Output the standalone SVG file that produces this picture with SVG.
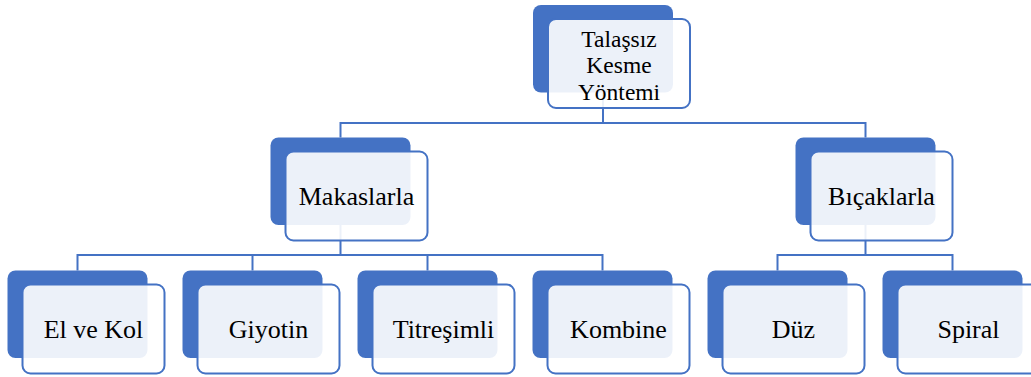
<svg xmlns="http://www.w3.org/2000/svg" width="1031" height="377" viewBox="0 0 1031 377">
<style>
.back{fill:#4472C4}
.front{fill:#FFFFFF;fill-opacity:0.9;stroke:#4472C4;stroke-width:2}
.conn{fill:none;stroke:#4472C4;stroke-width:2}
.lbl{font-family:"Liberation Serif","DejaVu Serif",serif;font-size:26px;fill:#000000;text-anchor:middle}
.lbl-top{font-size:23.5px}
</style>
<rect width="1031" height="377" fill="#FFFFFF"/>
<g id="connectors">
<path class="conn" d="M603,92 V123 H340.5 V137.5"/>
<path class="conn" d="M603,123 H865.5 V137.5"/>
<path class="conn" d="M340.5,225 V255 H77.5 V270.5"/>
<path class="conn" d="M340.5,255 H602.5 V270.5"/>
<path class="conn" d="M252.5,255 V270.5"/>
<path class="conn" d="M427.5,255 V270.5"/>
<path class="conn" d="M865.5,225 V255 H777.5 V270.5"/>
<path class="conn" d="M865.5,255 H952.5 V270.5"/>
</g>
<g id="node-root">
<rect class="back" x="533" y="5" width="140" height="87.5" rx="8"/>
<rect class="front" x="548" y="19" width="142" height="89" rx="8"/>
<text class="lbl lbl-top" x="619" y="46.5">Talaşsız</text>
<text class="lbl lbl-top" x="619" y="73">Kesme</text>
<text class="lbl lbl-top" x="619" y="99.5">Yöntemi</text>
</g>
<g id="node-makaslarla">
<rect class="back" x="270.5" y="137.5" width="140" height="87.5" rx="8"/>
<rect class="front" x="285.5" y="151.5" width="142" height="89" rx="8"/>
<text class="lbl" x="356.5" y="205">Makaslarla</text>
</g>
<g id="node-bicaklarla">
<rect class="back" x="795.5" y="137.5" width="140" height="87.5" rx="8"/>
<rect class="front" x="810.5" y="151.5" width="142" height="89" rx="8"/>
<text class="lbl" x="881.5" y="205">Bıçaklarla</text>
</g>
<g id="node-elvekol">
<rect class="back" x="7.5" y="270.5" width="140" height="87.5" rx="8"/>
<rect class="front" x="22.5" y="284.5" width="142" height="89" rx="8"/>
<text class="lbl" x="93.5" y="338">El ve Kol</text>
</g>
<g id="node-giyotin">
<rect class="back" x="182.5" y="270.5" width="140" height="87.5" rx="8"/>
<rect class="front" x="197.5" y="284.5" width="142" height="89" rx="8"/>
<text class="lbl" x="268.5" y="338">Giyotin</text>
</g>
<g id="node-titresimli">
<rect class="back" x="357.5" y="270.5" width="140" height="87.5" rx="8"/>
<rect class="front" x="372.5" y="284.5" width="142" height="89" rx="8"/>
<text class="lbl" x="443.5" y="338">Titreşimli</text>
</g>
<g id="node-kombine">
<rect class="back" x="532.5" y="270.5" width="140" height="87.5" rx="8"/>
<rect class="front" x="547.5" y="284.5" width="142" height="89" rx="8"/>
<text class="lbl" x="618.5" y="338">Kombine</text>
</g>
<g id="node-duz">
<rect class="back" x="707.5" y="270.5" width="140" height="87.5" rx="8"/>
<rect class="front" x="722.5" y="284.5" width="142" height="89" rx="8"/>
<text class="lbl" x="793.5" y="338">Düz</text>
</g>
<g id="node-spiral">
<rect class="back" x="882.5" y="270.5" width="140" height="87.5" rx="8"/>
<rect class="front" x="897.5" y="284.5" width="142" height="89" rx="8"/>
<text class="lbl" x="968.5" y="338">Spiral</text>
</g>
</svg>
